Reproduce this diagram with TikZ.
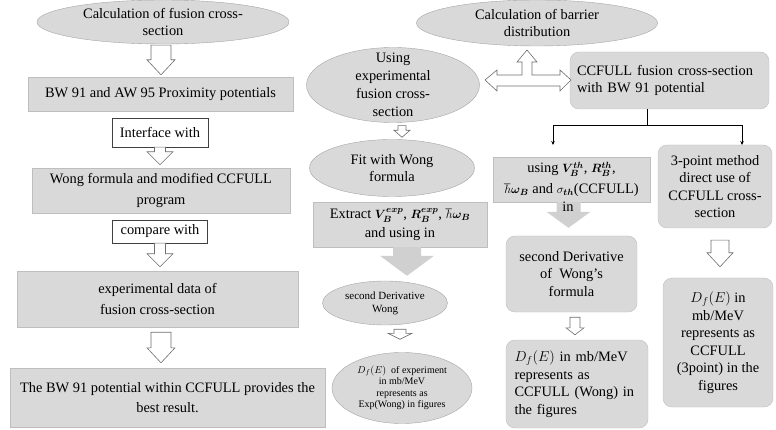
\documentclass[tikz,border=0pt]{standalone}
\usepackage{fontspec}
\setmainfont{Liberation Serif}
\usepackage{amsmath, bm}
\usetikzlibrary{shapes.geometric, arrows.meta, calc}

\definecolor{boxgray}{RGB}{217,217,217}
\definecolor{edgegray}{RGB}{190,190,190}
\definecolor{ovalgray}{RGB}{165,165,165}
\definecolor{arrowgray}{RGB}{110,110,110}
\definecolor{solidgray}{RGB}{208,208,208}

% smaller math inside the text lines
\newcommand{\smallmath}[1]{{\fontsize{12.5}{14}\selectfont$#1$}}

% block arrow pointing down: [style]{from}{to}{half shaft}{half head}{head length}
\newcommand{\blockarrow}[6][hollow]{%
  \filldraw[#1] let \p1=(#2), \p2=(#3) in
    (\x1-#4,\y1) -- (\x1+#4,\y1) -- (\x1+#4,\y2+#6) -- (\x1+#5,\y2+#6) --
    (\x1,\y2) -- (\x1-#5,\y2+#6) -- (\x1-#4,\y2+#6) -- cycle;}

\begin{document}
\begin{tikzpicture}[
        x=1pt, y=-1pt,
        every node/.style={font=\fontsize{14.4}{17.5}\selectfont, inner sep=1pt, align=center},
        box/.style={rectangle, draw=edgegray, fill=boxgray, font=\fontsize{14.4}{20.5}\selectfont},
        oval/.style={ellipse, draw=ovalgray, fill=boxgray, inner xsep=-30pt, inner ysep=-30pt},
        roundbox/.style={rectangle, rounded corners=9pt, draw=edgegray, fill=boxgray},
        tag/.style={rectangle, draw=black!75, fill=white},
        hollow/.style={draw=arrowgray, fill=white, line width=0.6pt},
        solid/.style={fill=solidgray, draw=none},
        link/.style={-{Stealth[length=4pt, width=3.5pt]}, line width=0.6pt}
    ]
        \useasboundingbox (0,0) rectangle (776,430);

        % Left column
        \node[oval, minimum width=252, minimum height=44] (calcfus) at (163,22) {Calculation of fusion cross-\\section};
        \node[box, minimum width=265, minimum height=34] (bwaw) at (160.5,94) {BW 91 and AW 95 Proximity potentials};
        \node[tag, minimum width=96, minimum height=29] (iface) at (160,132.5) {Interface with};
        \node[box, minimum width=258, minimum height=45] (wongccf) at (161,190.5) {Wong formula and modified CCFULL\\program};
        \node[tag, minimum width=95, minimum height=23] (compare) at (160,231.5) {compare with};
        \node[box, minimum width=281, minimum height=56] (expdata) at (157.5,299) {experimental data of\\fusion cross-section};
        \node[box, minimum width=315, minimum height=59] (best) at (167.5,397.5) {The BW 91 potential within CCFULL provides the\\best result.};

        % Middle column
        \node[oval, minimum width=241, minimum height=46] (barrier) at (537,23) {Calculation of barrier\\distribution};
        \node[oval, minimum width=173, minimum height=75, font=\fontsize{14.4}{18}\selectfont] (useexp) at (393,85)
            {Using\\experimental\\fusion cross-\\section};
        \node[oval, minimum width=165, minimum height=57] (fitwong) at (392,168) {Fit with Wong\\formula};
        \node[box, minimum width=174, minimum height=45, font=\fontsize{14.4}{19}\selectfont] (extract) at (400,224.5)
            {Extract \smallmath{\bm{V_B^{exp}}}, \smallmath{\bm{R_B^{exp}}}, \smallmath{\hbar\bm{\omega_B}}\\and using in};
        \node[oval, minimum width=125, minimum height=44, font=\fontsize{11}{13}\selectfont] (secwong) at (385,303) {second Derivative\\Wong};
        \node[oval, minimum width=140, minimum height=71, font=\fontsize{10}{11.5}\selectfont] (dfexp) at (402,388)
            {$D_f(E)$\ \ of experiment\\in mb/MeV\\represents as\\Exp(Wong) in figures};

        % Right columns
        \node[roundbox, minimum width=199, minimum height=57, align=left, text width=185] (ccfull) at (669.5,80.5)
            {CCFULL fusion cross-section\\with BW 91 potential};
        \node[box, minimum width=157, minimum height=45, font=\fontsize{14.4}{21}\selectfont] (usingth) at (571.5,179.5)
            {using \smallmath{\bm{V_B^{th}}}, \smallmath{\bm{R_B^{th}}},\\\smallmath{\hbar\bm{\omega_B}} and \smallmath{\sigma_{\bm{th}}}(CCFULL)};
        \node[roundbox, minimum width=131, minimum height=76] (secwongf) at (571.5,274) {second Derivative\\of~ Wong's\\formula};
        \node[roundbox, minimum width=142, minimum height=88, align=left, text width=125] (dfwong) at (577,384)
            {$D_f(E)$ in mb/MeV\\represents as\\CCFULL (Wong) in\\the figures};
        \node[roundbox, minimum width=114, minimum height=83] (threept) at (715,186.5) {3-point method\\direct use of\\CCFULL cross-\\section};
        \node[roundbox, minimum width=110, minimum height=129] (df3) at (718,342.5)
            {$D_f(E)$ in\\mb/MeV\\represents as\\CCFULL\\(3point) in the\\figures};

        % Block arrows
        \blockarrow{[xshift=-2pt,yshift=-1pt]calcfus.south}{[yshift=2pt]bwaw.north}{10}{14}{15}
        \blockarrow{iface.south}{[yshift=3pt]wongccf.north}{5.5}{13}{13}
        \blockarrow{compare.south}{[yshift=4pt]expdata.north}{5.5}{13}{13}
        \blockarrow{[xshift=3.5pt,yshift=-5pt]expdata.south}{[yshift=5pt]best.north}{10}{14}{15}
        \blockarrow{[xshift=9pt,yshift=-3pt]useexp.south}{[yshift=2pt]fitwong.north}{4}{8}{7}
        \blockarrow[solid]{[xshift=7pt]extract.south}{[yshift=5pt]secwong.north}{14}{27}{20}
        \blockarrow{[xshift=15pt,yshift=-4pt]secwong.south}{[yshift=13pt]dfexp.north}{6}{12}{6}
        \blockarrow[solid]{[xshift=-3pt]usingth.south}{[yshift=8pt]secwongf.north}{12}{22}{16}
        \node (intxt) at (568,207) {in};
        \blockarrow{[xshift=3.5pt,yshift=-5pt]secwongf.south}{[yshift=5pt]dfwong.north}{5}{9}{7}
        \blockarrow{[xshift=5pt,yshift=-12pt]threept.south}{[yshift=11pt]df3.north}{9}{13}{14}

        % Three-way arrow
        \coordinate (hub) at (527,80);
        \filldraw[hollow] (hub) ++(-42,0) -- ++(12,-10) -- ++(0,5) -- ++(25,0) -- ++(0,-13) -- ++(-5,0) -- ++(10,-12)
            -- ++(10,12) -- ++(-5,0) -- ++(0,13) -- ++(28,0) -- ++(0,-5) -- ++(11,10) -- ++(-11,11) -- ++(0,-5)
            -- ++(-63,0) -- ++(0,5) -- cycle;

        % Connectors
        \coordinate (fork) at (647,125);
        \coordinate (lefttip) at (553,145);
        \coordinate (righttip) at (742,145);
        \draw[line width=0.6pt] (ccfull.south -| fork) -- (fork);
        \draw[link] (fork) -| (lefttip);
        \draw[link] (fork) -| (righttip);

    \end{tikzpicture}
\end{document}
